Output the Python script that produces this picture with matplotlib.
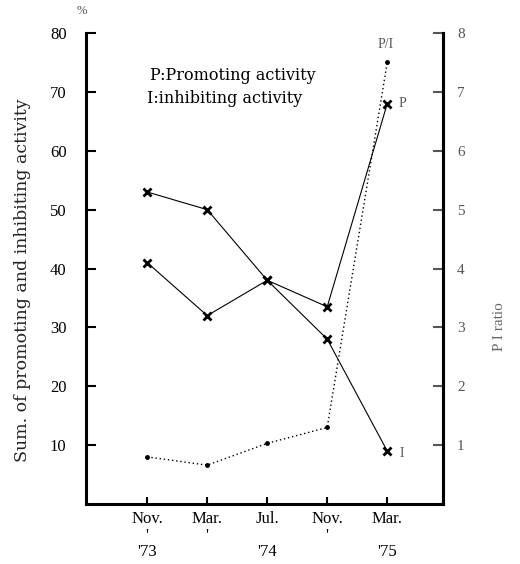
import matplotlib
matplotlib.use("Agg")
import matplotlib.pyplot as plt

plt.rcParams['font.family'] = ['Liberation Serif', 'DejaVu Serif']

months = ["Nov.", "Mar.", "Jul.", "Nov.", "Mar."]
tick_labels = ["Nov.\n'\n'73", "Mar.\n'\n", "Jul.\n\n'74", "Nov.\n'\n", "Mar.\n\n'75"]
promoting = [41, 32, 38, 33.5, 68]
inhibiting = [53, 50, 38, 28, 9]
pi_ratio = [0.8, 0.66, 1.03, 1.3, 7.5]
left_ticks = [10, 20, 30, 40, 50, 60, 70, 80]
right_ticks = [1, 2, 3, 4, 5, 6, 7, 8]

fig = plt.figure(figsize=(5.2, 5.64), dpi=100)
ax = fig.add_axes([0.1654, 0.1064, 0.6866, 0.835])
x = list(range(len(months)))

ax.plot(x, promoting, color='black', lw=0.8, marker='x', ms=6, mew=2)
ax.plot(x, inhibiting, color='black', lw=0.8, marker='x', ms=6, mew=2)
ax.set_xlim(-1.02, 4.93)
ax.set_ylim(0, 80)
ax.set_yticks(left_ticks)
ax.set_xticks(x)
ax.set_xticklabels(tick_labels, fontsize=12, linespacing=1.05)
ax.tick_params(axis='y', direction='in', length=7, width=1.5, labelsize=12, pad=14)
ax.tick_params(axis='x', direction='in', length=5, width=1.5, pad=5)
ax.spines['top'].set_visible(False)
for s in ['left', 'bottom', 'right']:
    ax.spines[s].set_linewidth(2.2)
ax.set_ylabel("Sum. of promoting and inhibiting activity", fontsize=12.5,
              family=['DejaVu Serif'], color='#222222')
ax.yaxis.set_label_coords(-0.154, 0.475)

ax2 = ax.twinx()
ax2.plot(x, pi_ratio, color='black', lw=1.0, ls=(0, (1, 2)), marker='o', ms=2.5)
ax2.set_ylim(0, 8)
ax2.set_yticks(right_ticks)
ax2.tick_params(axis='y', direction='in', length=7, width=1.5, labelsize=11, pad=10, colors='#555555')
ax2.spines['top'].set_visible(False)
ax2.spines['right'].set_linewidth(2.2)
ax2.set_ylabel("P I ratio", fontsize=11, color='#666666')
ax2.yaxis.set_label_coords(1.14, 0.376)

ax.text(0.05, 72.8, "P:Promoting activity", fontsize=11.5, va='center', family=['DejaVu Serif'])
ax.text(0.0, 68.9, "I:inhibiting activity", fontsize=11.5, va='center', family=['DejaVu Serif'])
ax.text(3.98, 78, "P/I", fontsize=10, color='#555555', ha='center', va='center')
ax.text(4.18, 68, "P", fontsize=10, color='#555555', va='center')
ax.text(4.2, 8.5, "I", fontsize=10, color='#555555', va='center')
fig.text(0.148, 0.975, "%", fontsize=9, color='#555555')

fig.savefig("out.png", dpi=100)
